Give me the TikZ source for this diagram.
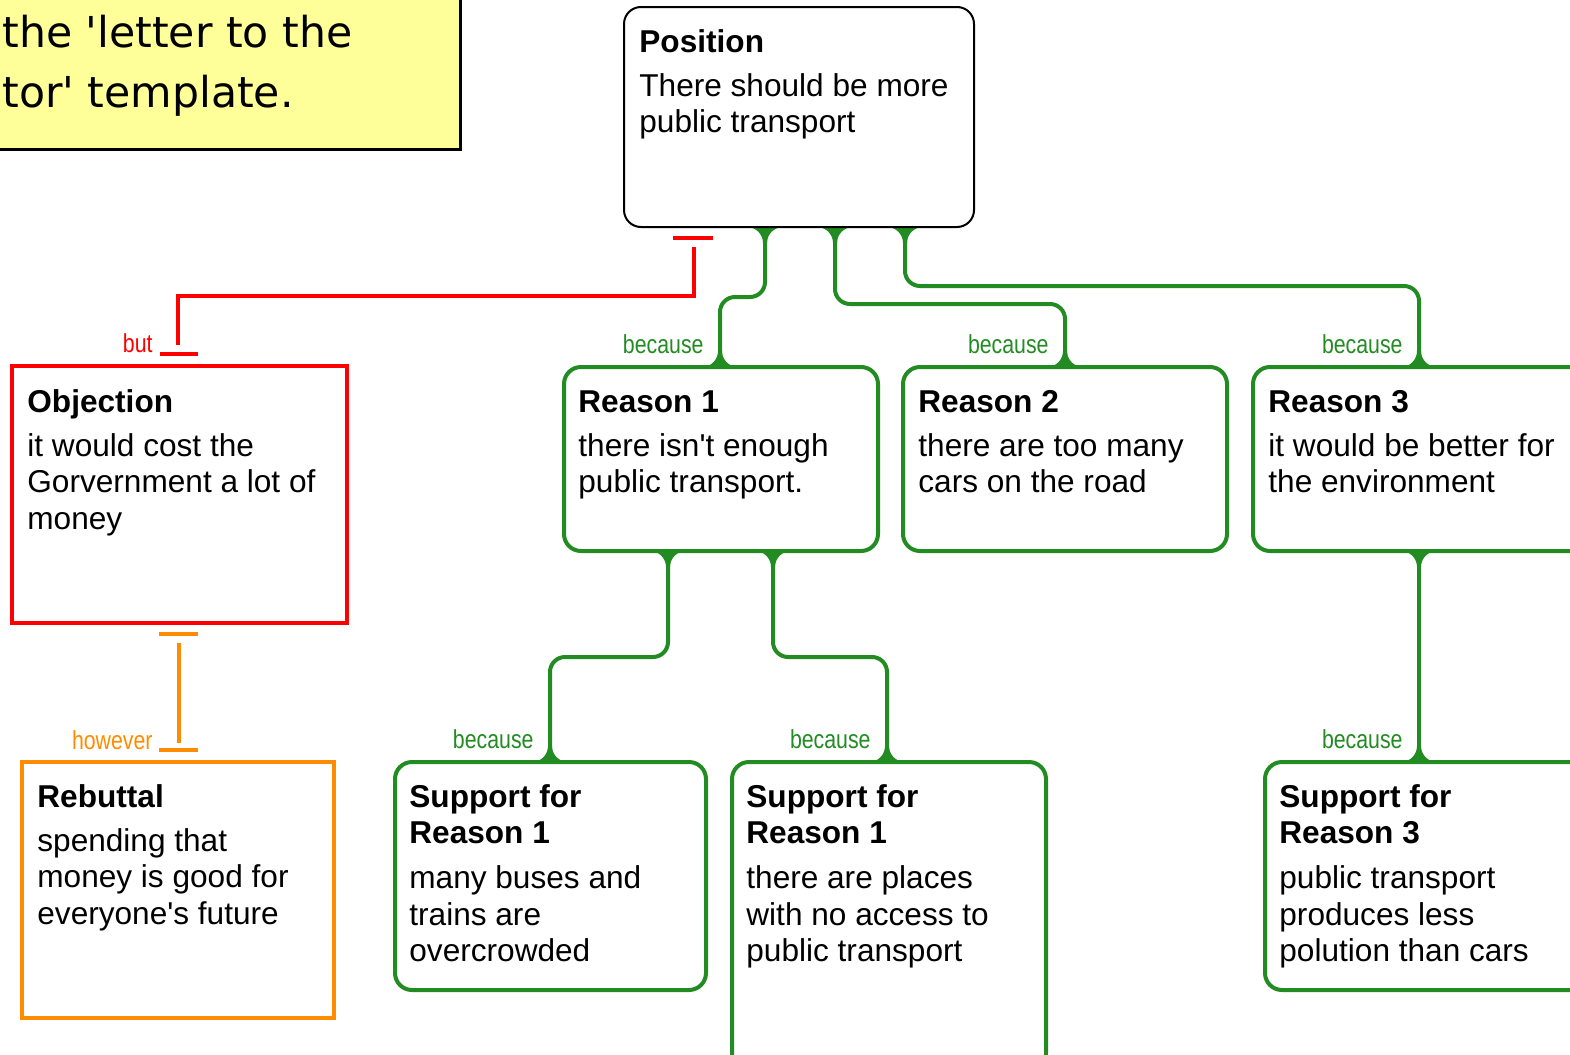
\documentclass[tikz,border=0pt]{standalone}
\usepackage{fontspec}
\setmainfont{Liberation Sans}
\newfontfamily\bodyf{Liberation Sans}
\newfontfamily\narrowf[FakeStretch=0.82]{Liberation Sans}
\newfontfamily\notef{DejaVu Sans}
\usetikzlibrary{calc}
\definecolor{gr}{RGB}{34,139,34}
\definecolor{og}{RGB}{255,140,0}
\definecolor{yl}{RGB}{255,255,153}
\definecolor{rd}{RGB}{255,0,0}
\begin{document}
\begin{tikzpicture}[x=0.5pt,y=-0.5pt,
  box/.style={rectangle, inner sep=0, outer sep=0},
  gbox/.style={box, draw=gr, line width=2pt, rounded corners=8.5pt},
  kbox/.style={box, draw=black, line width=1pt, rounded corners=8.5pt},
  rbox/.style={box, draw=rd, line width=2pt},
  obox/.style={box, draw=og, line width=2pt},
  txt/.style={anchor=base west, inner sep=0, font=\bodyf\fontsize{15.8pt}{18.2pt}\selectfont},
  lab/.style={anchor=base east, inner sep=0, font=\narrowf\fontsize{13pt}{15pt}\selectfont},
  gline/.style={draw=gr, line width=2pt, rounded corners=7.5pt},
  rline/.style={draw=rd, line width=2pt},
  oline/.style={draw=og, line width=2pt},
  flare/.pic={\fill[gr] (-18,-1) -- (-18,0) .. controls (-9.2,0) and (-2,7.2) .. (-2,16) -- (2,16) .. controls (2,7.2) and (9.2,0) .. (18,0) -- (18,-1) -- cycle;}
]
\useasboundingbox (0,0) rectangle (1570,1055);
\clip (0,0) rectangle (1570,1055);

% note box
\node[box, fill=yl, draw=black, line width=1.5pt, minimum width=240pt, minimum height=84.5pt] (note) at (220,64.5) {};
\node[anchor=base west, inner sep=0, font=\notef\fontsize{21.3pt}{30pt}\selectfont] (noteT) at (2,47)
  {\parbox[t]{300pt}{the 'letter to the\\tor' template.}};

% box geometry (named nodes)
\path
  (799,117) node[box, minimum width=175pt, minimum height=110pt] (pos) {}
  (179.5,494.5) node[box, minimum width=167.5pt, minimum height=128.5pt] (obj) {}
  (178,890) node[box, minimum width=156pt, minimum height=128pt] (reb) {}
  (721,459) node[box, minimum width=157pt, minimum height=92pt] (r1) {}
  (1065,459) node[box, minimum width=162pt, minimum height=92pt] (r2) {}
  (1421.5,459) node[box, minimum width=168.5pt, minimum height=92pt] (r3) {}
  (550.5,876) node[box, minimum width=155.5pt, minimum height=114pt] (s1) {}
  (889,916) node[box, minimum width=157pt, minimum height=154pt] (s2) {}
  (1427.5,876) node[box, minimum width=162.5pt, minimum height=114pt] (s3) {};

% green connectors
\draw[gline] ($(pos.south west)+(141,0)$) coordinate (c1a) -- ++(0,70) -| ($(r1.north west)+(156,0)$) coordinate (c1b);
\draw[gline] ($(pos.south west)+(211,0)$) coordinate (c2a) -- ++(0,77) -| ($(r2.north west)+(162,0)$) coordinate (c2b);
\draw[gline] ($(pos.south west)+(281,0)$) coordinate (c3a) -- ++(0,59) -| ($(r3.north west)+(166,0)$) coordinate (c3b);
\draw[gline] ($(r1.south west)+(104,0)$) coordinate (c4a) -- ++(0,106) -| ($(s1.north west)+(155,0)$) coordinate (c4b);
\draw[gline] ($(r1.south west)+(209,0)$) coordinate (c5a) -- ++(0,106) -| ($(s2.north west)+(155,0)$) coordinate (c5b);
\draw[gline] ($(r3.south west)+(166,0)$) coordinate (c6a) -- ($(s3.north west)+(154,0)$) coordinate (c6b);

\foreach \c in {c1a,c2a,c3a,c4a,c5a,c6a} \pic at (\c) {flare};
\foreach \c in {c1b,c2b,c3b,c4b,c5b,c6b} \pic[yscale=-1] at (\c) {flare};

% boxes drawn
\node[kbox, fill=white, minimum width=175pt, minimum height=110pt] at (pos) {};
\node[rbox, fill=white, minimum width=167.5pt, minimum height=128.5pt] at (obj) {};
\node[obox, fill=white, minimum width=156pt, minimum height=128pt] at (reb) {};
\node[gbox, fill=white, minimum width=157pt, minimum height=92pt] at (r1) {};
\node[gbox, fill=white, minimum width=162pt, minimum height=92pt] at (r2) {};
\node[gbox, fill=white, minimum width=168.5pt, minimum height=92pt] at (r3) {};
\node[gbox, fill=white, minimum width=155.5pt, minimum height=114pt] at (s1) {};
\node[gbox, fill=white, minimum width=157pt, minimum height=154pt] at (s2) {};
\node[gbox, fill=white, minimum width=162.5pt, minimum height=114pt] at (s3) {};

% texts
\node[txt] (posT) at ($(pos.north west)+(15,45)$) {\parbox[t]{170pt}{\textbf{Position}\\[4pt]There should be more\\public transport}};
\node[txt] (objT) at ($(obj.north west)+(15,46)$) {\parbox[t]{165pt}{\textbf{Objection}\\[4pt]it would cost the\\Gorvernment a lot of\\money}};
\node[txt] (rebT) at ($(reb.north west)+(15,45)$) {\parbox[t]{155pt}{\textbf{Rebuttal}\\[4pt]spending that\\money is good for\\everyone's future}};
\node[txt] (r1T) at ($(r1.north west)+(14,45)$) {\parbox[t]{155pt}{\textbf{Reason 1}\\[4pt]there isn't enough\\public transport.}};
\node[txt] (r2T) at ($(r2.north west)+(15,45)$) {\parbox[t]{160pt}{\textbf{Reason 2}\\[4pt]there are too many\\cars on the road}};
\node[txt] (r3T) at ($(r3.north west)+(15,45)$) {\parbox[t]{160pt}{\textbf{Reason 3}\\[4pt]it would be better for\\the environment}};
\node[txt] (s1T) at ($(s1.north west)+(14,45)$) {\parbox[t]{155pt}{\textbf{Support for}\\\textbf{Reason 1}\\[4.5pt]many buses and\\trains are\\overcrowded}};
\node[txt] (s2T) at ($(s2.north west)+(14,45)$) {\parbox[t]{155pt}{\textbf{Support for}\\\textbf{Reason 1}\\[4.5pt]there are places\\with no access to\\public transport}};
\node[txt] (s3T) at ($(s3.north west)+(14,45)$) {\parbox[t]{155pt}{\textbf{Support for}\\\textbf{Reason 3}\\[4.5pt]public transport\\produces less\\polution than cars}};

% because labels
\node[lab, text=gr] (b1) at ($(c1b)+(-16,-14)$) {because};
\node[lab, text=gr] (b2) at ($(c2b)+(-16,-14)$) {because};
\node[lab, text=gr] (b3) at ($(c3b)+(-16,-14)$) {because};
\node[lab, text=gr] (b4) at ($(c4b)+(-16,-14)$) {because};
\node[lab, text=gr] (b5) at ($(c5b)+(-16,-14)$) {because};
\node[lab, text=gr] (b6) at ($(c6b)+(-16,-14)$) {because};

% red objection connector
\draw[rline] ($(pos.south west)+(49,11)$) -- ($(pos.south west)+(89,11)$);
\draw[rline] ($(pos.south west)+(70,20)$) -- ++(0,49) -| ($(obj.north west)+(166,-21)$);
\draw[rline] ($(obj.north west)+(148,-12)$) -- ($(obj.north west)+(186,-12)$);
\node[lab, text=rd] (butL) at ($(obj.north west)+(141,-14)$) {but};

% orange rebuttal connector
\draw[oline] ($(obj.south west)+(147,11)$) -- ($(obj.south west)+(186,11)$);
\draw[oline] ($(obj.south west)+(167,20)$) -- ($(reb.north west)+(157,-19)$);
\draw[oline] ($(reb.north west)+(137,-12)$) -- ($(reb.north west)+(176,-12)$);
\node[lab, text=og] (howL) at ($(reb.north west)+(131,-13)$) {however};
\end{tikzpicture}
\end{document}
